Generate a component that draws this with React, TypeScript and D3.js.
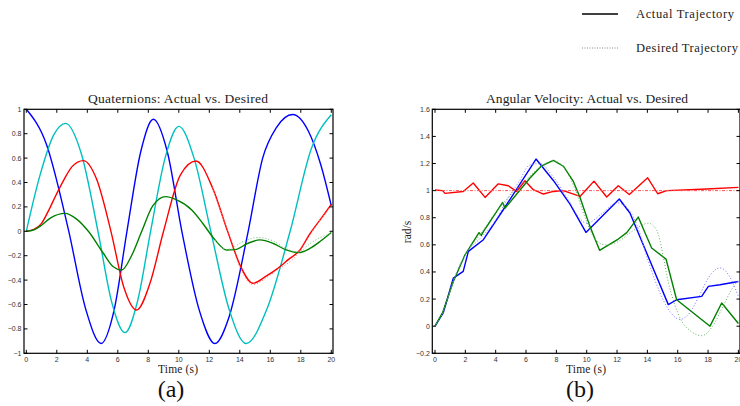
import React, { useEffect, useRef } from "react";
import * as d3 from "d3";

type Pt = [number, number];

const timeTicks = [0, 2, 4, 6, 8, 10, 12, 14, 16, 18, 20];
const quatTicks = [-1, -0.8, -0.6, -0.4, -0.2, 0, 0.2, 0.4, 0.6, 0.8, 1];
const velTicks = [-0.2, 0, 0.2, 0.4, 0.6, 0.8, 1, 1.2, 1.4, 1.6];

// quaternion components (actual), [time s, value]
const qBlue: Pt[] = [[0, 1], [1.3, 0.72], [2.75, 0.02], [3.9, -0.64], [4.9, -0.92], [5.75, -0.65], [6.6, 0], [7.5, 0.65], [8.33, 0.918],
  [9.25, 0.65], [10.2, 0], [11.35, -0.65], [12.37, -0.92], [13.3, -0.7], [14.55, 0], [15.5, 0.6], [16.4, 0.85], [17.47, 0.957],
  [18.5, 0.82], [19.3, 0.55], [20, 0.21]];
const qCyan: Pt[] = [[0, 0], [0.9, 0.46], [1.8, 0.79], [2.58, 0.885], [3.6, 0.64], [4.7, 0], [5.6, -0.58], [6.47, -0.83],
  [7.3, -0.57], [8.15, 0], [9.1, 0.6], [10.0, 0.86], [11.0, 0.6], [12.1, 0], [13.3, -0.64], [14.41, -0.92], [15.8, -0.63],
  [17.3, 0], [18.7, 0.68], [20, 0.955]];
const qRed: Pt[] = [[0, 0], [0.5, 0.015], [1, 0.065], [1.5, 0.18], [2, 0.31], [2.5, 0.43], [3, 0.53], [3.74, 0.579], [4.6, 0.43],
  [5.55, 0], [6.4, -0.46], [7.24, -0.645], [8.1, -0.43], [9.0, 0], [10.1, 0.46], [11.13, 0.576], [12.2, 0.36], [13.2, 0],
  [14.1, -0.3], [14.85, -0.426], [15.7, -0.37], [16.42, -0.31], [17.2, -0.23], [17.95, -0.153], [18.6, -0.02], [19.3, 0.1], [20, 0.22]];
const qGreen: Pt[] = [[0, 0], [0.5, 0.012], [1, 0.05], [1.6, 0.11], [2.54, 0.147], [3.3, 0.1], [4.07, 0], [5.05, -0.18], [5.7, -0.29],
  [6.26, -0.317], [6.9, -0.2], [7.57, 0], [8.3, 0.21], [9.14, 0.284], [9.9, 0.255], [10.85, 0.175], [11.6, 0.06], [12.37, -0.07],
  [13.14, -0.153], [13.7, -0.15], [14.5, -0.1], [15.32, -0.07], [16.2, -0.1], [17.0, -0.15], [17.84, -0.175], [18.6, -0.14],
  [19.3, -0.08], [20, -0.01]];
// desired quaternion, where it differs from actual
const qRedDes: Pt[] = [[12.2, 0.36], [13.2, 0], [14.1, -0.32], [14.85, -0.436], [15.87, -0.37], [16.42, -0.32], [17.55, -0.22],
  [18.6, -0.03], [19.3, 0.1], [20, 0.21]];
const qGreenDes: Pt[] = [[12.37, -0.07], [13.14, -0.15], [14.3, -0.08], [15.2, -0.05], [16.2, -0.08], [17.0, -0.14], [17.84, -0.17],
  [18.6, -0.1], [19.3, -0.05], [20, -0.02]];

// angular velocity (actual), [time s, rad/s]
const wRed: Pt[] = [[0, 1.005], [0.5, 1.0], [0.66, 0.98], [1.86, 0.994], [2.52, 1.056], [3.3, 0.95], [4.17, 1.05], [4.83, 1.036],
  [5.38, 0.994], [5.93, 1.073], [6.48, 1.007], [7.14, 0.975], [7.8, 0.994], [8.46, 1.0], [9.56, 0.957], [10.48, 1.07],
  [11.32, 0.953], [12.08, 1.036], [12.81, 0.972], [14.02, 1.095], [14.68, 0.977], [15.27, 1.0], [17.9, 1.012], [20, 1.024]];
const wBlue: Pt[] = [[0, 0], [0.55, 0.1], [1.21, 0.355], [1.86, 0.404], [2.2, 0.552], [3.19, 0.638], [4.5, 0.859], [6.66, 1.233],
  [7.8, 1.075], [8.9, 0.9], [9.95, 0.692], [12.15, 0.938], [12.85, 0.835], [15.38, 0.159], [15.93, 0.195], [17.58, 0.22],
  [18.02, 0.294], [18.79, 0.306], [20, 0.33]];
const wGreen: Pt[] = [[0, 0], [0.5, 0.1], [1.21, 0.33], [1.98, 0.527], [2.9, 0.69], [3.05, 0.67], [3.2, 0.7], [4.46, 0.913],
  [4.61, 0.87], [6.26, 1.093], [7.0, 1.18], [7.8, 1.223], [8.46, 1.18], [9.12, 1.068], [9.56, 0.95], [10.2, 0.74], [10.85, 0.56],
  [12.08, 0.643], [12.64, 0.69], [13.4, 0.805], [13.8, 0.7], [14.28, 0.577], [15.23, 0.495], [15.93, 0.195], [18.13, 0],
  [18.9, 0.171], [20, 0.02]];
// angular velocity (desired)
const wRedDes: Pt[] = [[0, 1], [20, 1]];
const wBlueDes: Pt[] = [[0, 0], [0.6, 0.12], [1.2, 0.33], [2, 0.53], [3, 0.65], [4, 0.78], [4.73, 0.93], [5.5, 1.06], [6.26, 1.19],
  [6.9, 1.2], [7.8, 1.1], [8.8, 0.93], [9.5, 0.8], [10, 0.76], [11, 0.83], [12, 0.91], [12.6, 0.88], [13.3, 0.75], [14, 0.5],
  [14.6, 0.31], [15.3, 0.14], [16.15, 0.05], [16.8, 0.1], [17.4, 0.22], [18.1, 0.37], [18.79, 0.43], [19.4, 0.37], [20, 0.22]];
const wGreenDes: Pt[] = [[0, 0], [0.6, 0.12], [1.2, 0.33], [2, 0.53], [3, 0.68], [4, 0.84], [5, 0.97], [6, 1.08], [7, 1.18],
  [7.8, 1.22], [8.5, 1.17], [9.2, 1.02], [9.9, 0.8], [10.5, 0.65], [11.2, 0.6], [12, 0.62], [13, 0.7], [14.06, 0.76], [14.6, 0.71],
  [15.5, 0.27], [16.15, 0.06], [16.9, -0.04], [17.58, -0.07], [18.3, 0], [19, 0.15], [19.6, 0.28], [20, 0.34]];

const BLUE = "#0000ff", CYAN = "#00bfbf", RED = "#ff0000", GREEN = "#008000";
const SERIF = "'Liberation Serif', 'DejaVu Serif', serif";
const SANS = "'Liberation Sans', Arial, sans-serif";

const fmt = (d: number) => String(+d.toFixed(1)).replace("-", "\u2212");

function serifText(g: any, x: number, y: number, size: number, txt: string, len?: number, anchor = "middle") {
  const t = g.append("text").attr("x", x).attr("y", y).attr("text-anchor", anchor)
    .style("font-family", SERIF).style("font-size", size + "px").attr("fill", "#222").text(txt);
  if (len) t.attr("textLength", len).attr("lengthAdjust", "spacing");
  return t;
}

function drawPanel(svg: any, p: any) {
  const x = d3.scaleLinear().domain([0, 20]).range(p.xRange);
  const y = d3.scaleLinear().domain(p.yDomain).range([p.bottom, p.top]);
  const g = svg.append("g");

  serifText(g, p.titleX, 103, 13.5, p.title, p.titleLen);

  const clipId = "clip" + p.id;
  g.append("clipPath").attr("id", clipId).append("rect")
    .attr("x", p.left).attr("y", p.top - 2).attr("width", p.right - p.left).attr("height", p.bottom - p.top + 4);
  const plot = g.append("g").attr("clip-path", `url(#${clipId})`);

  p.actual.forEach((s: any) => {
    const line = d3.line<Pt>().x(d => x(d[0])).y(d => y(d[1])).curve(s.curve);
    plot.append("path").datum(s.data).attr("d", line).attr("fill", "none")
      .attr("stroke", s.color).attr("stroke-width", 1.4).attr("stroke-linejoin", "round");
  });
  p.desired.forEach((s: any) => {
    const line = d3.line<Pt>().x(d => x(d[0])).y(d => y(d[1])).curve(d3.curveMonotoneX);
    plot.append("path").datum(s.data).attr("d", line).attr("fill", "none")
      .attr("stroke", s.color).attr("stroke-width", 1).attr("stroke-dasharray", s.dash || "1,2");
  });

  // box and inward ticks on all sides
  g.append("rect").attr("x", p.left).attr("y", p.top).attr("width", p.right - p.left).attr("height", p.bottom - p.top)
    .attr("fill", "none").attr("stroke", "#000").attr("stroke-width", 1.2);
  const tl = 3.5;
  timeTicks.forEach(t => {
    g.append("line").attr("x1", x(t)).attr("x2", x(t)).attr("y1", p.bottom).attr("y2", p.bottom - tl).attr("stroke", "#000");
    g.append("line").attr("x1", x(t)).attr("x2", x(t)).attr("y1", p.top).attr("y2", p.top + tl).attr("stroke", "#000");
    g.append("text").attr("x", x(t)).attr("y", p.bottom + 8.5).attr("text-anchor", "middle")
      .style("font-family", SANS).style("font-size", "7px").attr("fill", "#333").text(fmt(t));
  });
  p.yTicks.forEach((v: number) => {
    g.append("line").attr("x1", p.left).attr("x2", p.left + tl).attr("y1", y(v)).attr("y2", y(v)).attr("stroke", "#000");
    g.append("line").attr("x1", p.right).attr("x2", p.right - tl).attr("y1", y(v)).attr("y2", y(v)).attr("stroke", "#000");
    g.append("text").attr("x", p.left - 2.5).attr("y", y(v) + 2.5).attr("text-anchor", "end")
      .style("font-family", SANS).style("font-size", "7px").attr("fill", "#333").text(fmt(v));
  });

  serifText(g, p.xLabelX, 373, 11.5, "Time (s)", 40);
  g.append("text").attr("x", p.tagX).attr("y", 397).attr("text-anchor", "middle")
    .style("font-family", SERIF).style("font-size", "24px").attr("fill", "#111").text(p.tag);
  if (p.yLabel) {
    g.append("text").attr("transform", `translate(411,232) rotate(-90)`).attr("text-anchor", "middle")
      .style("font-family", SERIF).style("font-size", "11.5px").attr("fill", "#222").text(p.yLabel);
  }
}

export default function App() {
  const ref = useRef<SVGSVGElement>(null);
  useEffect(() => {
    const svg = d3.select(ref.current);
    svg.selectAll("*").remove();

    drawPanel(svg, {
      id: "a", title: "Quaternions: Actual vs. Desired", titleX: 178, titleLen: 180, xLabelX: 178, tagX: 171, tag: "(a)",
      left: 24, right: 333, top: 109.3, bottom: 353.3, xRange: [26.3, 331.3], yDomain: [-1, 1], yTicks: quatTicks,
      actual: [
        { data: qBlue, color: BLUE, curve: d3.curveMonotoneX },
        { data: qCyan, color: CYAN, curve: d3.curveMonotoneX },
        { data: qRed, color: RED, curve: d3.curveMonotoneX },
        { data: qGreen, color: GREEN, curve: d3.curveMonotoneX },
      ],
      desired: [
        { data: qRedDes, color: "#ff7070" },
        { data: qGreenDes, color: "#70c070" },
      ],
    });

    drawPanel(svg, {
      id: "b", title: "Angular Velocity: Actual vs. Desired", titleX: 587, titleLen: 202, xLabelX: 586, tagX: 580, tag: "(b)",
      left: 432.3, right: 740, top: 109.3, bottom: 353.3, xRange: [435, 738.4], yDomain: [-0.2, 1.6], yTicks: velTicks,
      yLabel: "rad/s",
      actual: [
        { data: wRed, color: RED, curve: d3.curveLinear },
        { data: wBlue, color: BLUE, curve: d3.curveLinear },
        { data: wGreen, color: GREEN, curve: d3.curveLinear },
      ],
      desired: [
        { data: wRedDes, color: "#ff5050", dash: "3,1.5,1,1.5" },
        { data: wBlueDes, color: "#7070ff" },
        { data: wGreenDes, color: "#60b060" },
      ],
    });

    // legend
    const lg = svg.append("g");
    lg.append("line").attr("x1", 582).attr("x2", 618).attr("y1", 14).attr("y2", 14).attr("stroke", "#000").attr("stroke-width", 1.5);
    serifText(lg, 636, 18, 12.5, "Actual Trajectory", 98, "start");
    lg.append("line").attr("x1", 582).attr("x2", 618).attr("y1", 48).attr("y2", 48).attr("stroke", "#666")
      .attr("stroke-width", 0.8).attr("stroke-dasharray", "1,1.5");
    serifText(lg, 636, 52, 12.5, "Desired Trajectory", 102, "start");
  }, []);

  return (
    <svg ref={ref} width={740} height={406} style={{ position: "absolute", left: 0, top: 0, background: "#fff" }} />
  );
}
